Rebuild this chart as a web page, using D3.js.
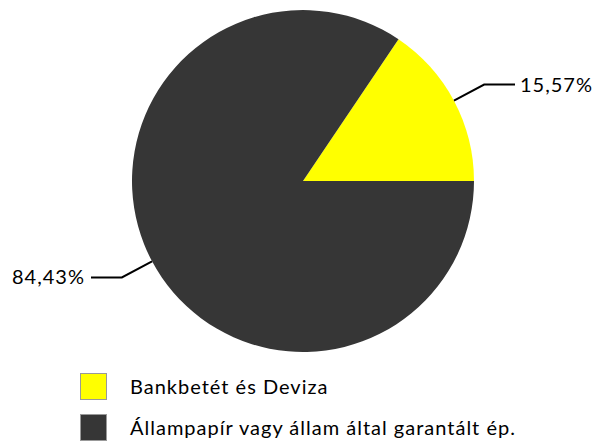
<!DOCTYPE html>
<html>
<head>
<meta charset="utf-8">
<script src="https://cdn.jsdelivr.net/npm/d3@7"></script>
<style>
  body { margin: 0; background: #fff; }
  text { font-family: "Lato", "Noto Sans", sans-serif; fill: #000; font-weight: 400; letter-spacing: 1px; }
</style>
</head>
<body>
<svg id="chart" width="597" height="441"></svg>
<script>
// Portfolio split
const categories = ["Bankbetét és Deviza", "Állampapír vagy állam által garantált ép."];
const values = [15.57, 84.43];
const labels = ["15,57%", "84,43%"];
const colors = ["#ffff00", "#363636"];

const svg = d3.select("#chart");
const cx = 303, cy = 181, r = 171;

const total = d3.sum(values);
const start = Math.PI / 2 - (values[0] / total) * 2 * Math.PI;
const pie = d3.pie().sort(null).startAngle(start).endAngle(start + 2 * Math.PI);
const arcs = pie(values);

const arc = d3.arc().innerRadius(0).outerRadius(r);
const g = svg.append("g").attr("transform", `translate(${cx},${cy})`);

g.selectAll("path")
  .data(arcs)
  .enter()
  .append("path")
  .attr("d", arc)
  .attr("fill", (d, i) => colors[i]);

// Leader lines and labels
const outer = d3.arc().innerRadius(r * 1.2).outerRadius(r * 1.2);
arcs.forEach((d, i) => {
  const mid = (d.startAngle + d.endAngle) / 2;
  const p0 = [Math.sin(mid) * r, -Math.cos(mid) * r];
  const p1 = outer.centroid(d);
  const right = Math.sin(mid) > 0;
  const p2 = [right ? 212 : -212, p1[1]];
  g.append("polyline")
    .attr("points", [p0, p1, p2].map((p) => p.join(",")).join(" "))
    .attr("fill", "none")
    .attr("stroke", "#000")
    .attr("stroke-width", 2);
  g.append("text")
    .attr("x", right ? p2[0] + 5 : p2[0] - 6)
    .attr("y", p2[1])
    .attr("dy", "0.35em")
    .attr("text-anchor", right ? "start" : "end")
    .style("font-size", "20px")
    .text(labels[i]);
});

// Legend
const legend = svg.append("g").attr("transform", "translate(80,373)");
const item = legend.selectAll("g")
  .data(categories)
  .enter()
  .append("g")
  .attr("transform", (d, i) => `translate(0,${i * 41})`);
item.append("rect")
  .attr("x", 0.5).attr("y", 0.5)
  .attr("width", 26).attr("height", 26)
  .attr("fill", (d, i) => colors[i])
  .attr("stroke", "#999");
item.append("text")
  .attr("x", 50)
  .attr("y", 14)
  .attr("dy", "0.35em")
  .style("font-size", "20px")
  .text((d) => d);
</script>
</body>
</html>
